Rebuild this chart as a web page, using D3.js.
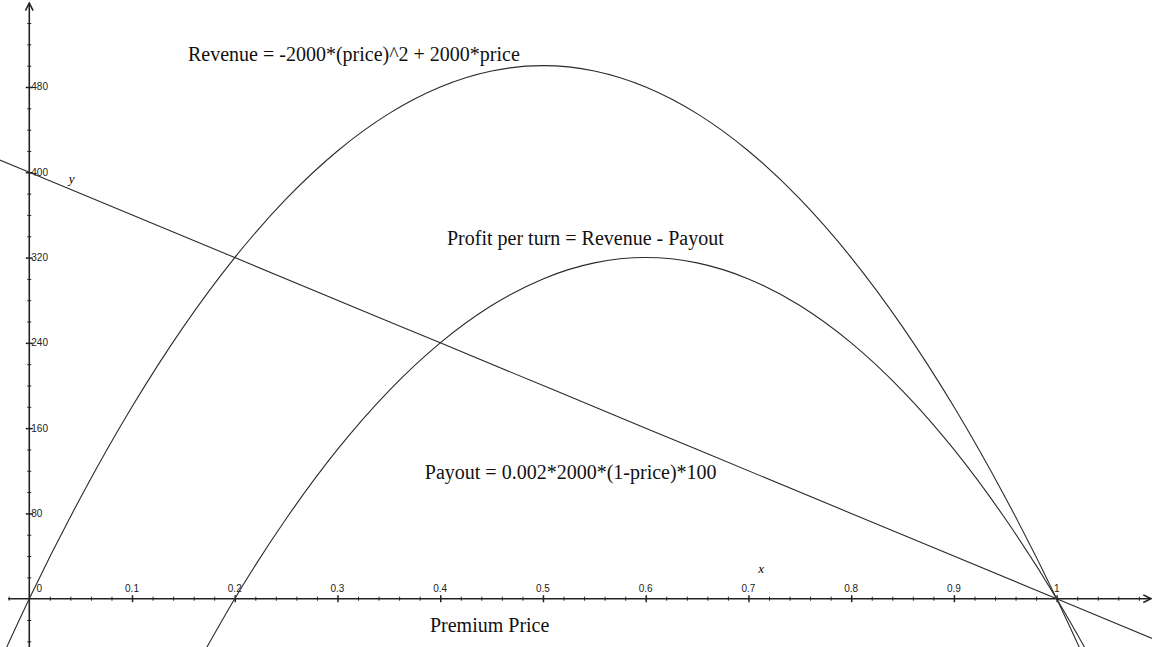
<!DOCTYPE html>
<html>
<head>
<meta charset="utf-8">
<script src="https://cdn.jsdelivr.net/npm/d3@7/dist/d3.min.js"></script>
<style>
  body { margin: 0; background: #fff; }
  svg { display: block; }
</style>
</head>
<body>
<div id="chart"></div>
<script>
const WIDTH = 1152;
const HEIGHT = 647;

// premium price samples
const revenuePrice = [-0.05, 0, 0.05, 0.1, 0.15, 0.2, 0.25, 0.3, 0.35, 0.4, 0.45, 0.5,
  0.55, 0.6, 0.65, 0.7, 0.75, 0.8, 0.85, 0.9, 0.95, 1.0, 1.05];
const revenueValues = [-105, 0, 95, 180, 255, 320, 375, 420, 455, 480, 495, 500,
  495, 480, 455, 420, 375, 320, 255, 180, 95, 0, -105];

const profitPrice = [0.15, 0.2, 0.25, 0.3, 0.35, 0.4, 0.45, 0.5, 0.55, 0.6, 0.65,
  0.7, 0.75, 0.8, 0.85, 0.9, 0.95, 1.0, 1.05];
const profitValues = [-85, 0, 75, 140, 195, 240, 275, 300, 315, 320, 315,
  300, 275, 240, 195, 140, 75, 0, -85];

const payoutPrice = [-0.05, 0, 0.2, 0.4, 0.6, 0.8, 1.0, 1.1];
const payoutValues = [420, 400, 320, 240, 160, 80, 0, -40];

const xMajorTicks = [0, 0.1, 0.2, 0.3, 0.4, 0.5, 0.6, 0.7, 0.8, 0.9, 1];
const yMajorTicks = [80, 160, 240, 320, 400, 480];

// annotation text, anchored at (price, value) of its left baseline
const notes = [
  { text: "Revenue = -2000*(price)^2 + 2000*price", x: 0.1545, y: 504.4 },
  { text: "Profit per turn = Revenue - Payout", x: 0.4066, y: 331.8 },
  { text: "Payout = 0.002*2000*(1-price)*100", x: 0.385, y: 112.3 },
  { text: "Premium Price", x: 0.39, y: -31.3 }
];

const x = d3.scaleLinear().domain([-0.0285, 1.0928]).range([0, WIDTH]);
const y = d3.scaleLinear().domain([-45.3, 561.6]).range([HEIGHT, 0]);

const svg = d3.select("#chart").append("svg")
  .attr("width", WIDTH)
  .attr("height", HEIGHT);

svg.append("defs").append("marker")
  .attr("id", "arrow")
  .attr("viewBox", "0 0 10 10")
  .attr("refX", 9).attr("refY", 5)
  .attr("markerWidth", 6).attr("markerHeight", 6)
  .attr("orient", "auto")
  .append("path")
  .attr("d", "M1,1 L9,5 L1,9")
  .attr("fill", "none")
  .attr("stroke", "#222")
  .attr("stroke-width", 1.6);

// minor tick values
const xMinor = d3.range(-1, 55).map(i => i * 0.02).filter(v => Math.abs(v * 10 - Math.round(v * 10)) > 1e-6);
const yMinor = d3.range(-2, 28).map(i => i * 20).filter(v => v % 80 !== 0);

// x axis through y = 0
const xAxisG = svg.append("g").attr("transform", "translate(0," + y(0) + ")");
xAxisG.append("line")
  .attr("x1", 8).attr("x2", WIDTH - 1)
  .attr("stroke", "#222").attr("stroke-width", 1.6)
  .attr("marker-end", "url(#arrow)");

const xMinorG = xAxisG.append("g")
  .call(d3.axisBottom(x).tickValues(xMinor).tickSize(2).tickFormat(""));
xMinorG.select(".domain").remove();
xMinorG.selectAll(".tick line").attr("y1", -2).attr("stroke", "#222");

const xMajorG = xAxisG.append("g")
  .call(d3.axisBottom(x).tickValues(xMajorTicks.filter(d => d !== 0)).tickSize(3.5).tickFormat(""));
xMajorG.select(".domain").remove();
xMajorG.selectAll(".tick line").attr("y1", -3.5).attr("stroke", "#222").attr("stroke-width", 1.5);

xAxisG.selectAll(".xlabel")
  .data(xMajorTicks)
  .enter().append("text")
  .attr("class", "xlabel")
  .attr("x", d => d === 0 ? x(d) + 10 : x(d))
  .attr("y", -7)
  .attr("text-anchor", "middle")
  .style("font-family", "'Liberation Sans', Arial, sans-serif")
  .style("font-size", "10px")
  .style("fill", "#222")
  .text(d => d3.format("")(d));

// y axis through x = 0
const yAxisG = svg.append("g").attr("transform", "translate(" + x(0) + ",0)");
yAxisG.append("line")
  .attr("y1", HEIGHT).attr("y2", 3)
  .attr("stroke", "#222").attr("stroke-width", 1.6)
  .attr("marker-end", "url(#arrow)");

const yMinorG = yAxisG.append("g")
  .call(d3.axisRight(y).tickValues(yMinor).tickSize(2).tickFormat(""));
yMinorG.select(".domain").remove();
yMinorG.selectAll(".tick line").attr("x1", -2).attr("stroke", "#222");

const yMajorG = yAxisG.append("g")
  .call(d3.axisRight(y).tickValues(yMajorTicks).tickSize(3.5).tickFormat(""));
yMajorG.select(".domain").remove();
yMajorG.selectAll(".tick line").attr("x1", -3.5).attr("stroke", "#222").attr("stroke-width", 1.5);

yAxisG.selectAll(".ylabel")
  .data(yMajorTicks)
  .enter().append("text")
  .attr("class", "ylabel")
  .attr("x", 2)
  .attr("y", d => y(d) + 3.5)
  .style("font-family", "'Liberation Sans', Arial, sans-serif")
  .style("font-size", "10px")
  .style("fill", "#222")
  .text(d => d);

// axis name letters
svg.append("text")
  .attr("x", x(0.0385)).attr("y", y(390))
  .style("font-family", "'Liberation Serif', 'Times New Roman', serif")
  .style("font-style", "italic").style("font-size", "13px")
  .text("y");
svg.append("text")
  .attr("x", x(0.7095)).attr("y", y(24))
  .style("font-family", "'Liberation Serif', 'Times New Roman', serif")
  .style("font-style", "italic").style("font-size", "13px")
  .text("x");

// curves
const line = d3.line()
  .x(d => x(d[0]))
  .y(d => y(d[1]))
  .curve(d3.curveNatural);

const curves = [
  d3.zip(revenuePrice, revenueValues),
  d3.zip(profitPrice, profitValues),
  d3.zip(payoutPrice, payoutValues)
];

svg.selectAll(".curve")
  .data(curves)
  .enter().append("path")
  .attr("class", "curve")
  .attr("d", line)
  .attr("fill", "none")
  .attr("stroke", "#2a2a2a")
  .attr("stroke-width", 1.1);

svg.selectAll(".note")
  .data(notes)
  .enter().append("text")
  .attr("class", "note")
  .attr("x", d => x(d.x))
  .attr("y", d => y(d.y))
  .style("font-family", "'Liberation Serif', 'Times New Roman', serif")
  .style("font-size", "20px")
  .style("fill", "#111")
  .text(d => d.text);
</script>
</body>
</html>
